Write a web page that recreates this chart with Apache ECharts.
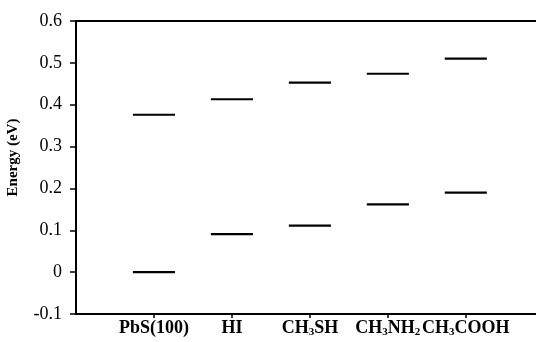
<!DOCTYPE html>
<html><head><meta charset="utf-8">
<script src="https://cdn.jsdelivr.net/npm/echarts@6/dist/echarts.min.js"></script>
<style>html,body{margin:0;padding:0;background:#fff}#c{width:536px;height:342px}</style>
</head><body><div id="c"></div>
<script>
const categories = ['PbS(100)', 'HI', 'CH3SH', 'CH3NH2', 'CH3COOH'];
const categoryLabels = ['PbS(100)', 'HI', 'CH{s|3}SH', 'CH{s|3}NH{s|2}', 'CH{s|3}COOH'];
const upperLevels = [0.376, 0.413, 0.453, 0.474, 0.510];
const lowerLevels = [0.000, 0.091, 0.111, 0.162, 0.190];
const yTicks = [-0.1, 0, 0.1, 0.2, 0.3, 0.4, 0.5, 0.6];

const halfWidth = 0.27;
const data = [];
categories.forEach((c, i) => {
  data.push([i + 1, upperLevels[i]]);
  data.push([i + 1, lowerLevels[i]]);
});

const chart = echarts.init(document.getElementById('c'), null, {renderer: 'canvas'});
const font = '"Liberation Serif", "Times New Roman", serif';
chart.setOption({
  animation: false,
  grid: {left: 76, right: 0, top: 21, bottom: 28, containLabel: false, outerBoundsMode: 'none'},
  xAxis: [{
    type: 'value', min: 0, max: 5.9, interval: 1,
    axisLine: {show: true, onZero: false, lineStyle: {color: '#000', width: 2}},
    axisTick: {show: true, length: 4, lineStyle: {color: '#000', width: 1.5},
      customValues: [1, 2, 3, 4, 5]},
    splitLine: {show: false},
    axisLabel: {
      customValues: [1, 2, 3, 4, 5],
      margin: 5,
      fontFamily: font, fontWeight: 'bold', fontSize: 18, color: '#000',
      formatter: v => categoryLabels[Math.round(v) - 1] || '',
      rich: {s: {fontFamily: font, fontWeight: 'bold', fontSize: 11, color: '#000', verticalAlign: 'bottom', padding: [8, 0, 0, 0]}}
    }
  }, {
    type: 'value', position: 'top', min: 0, max: 5.9,
    axisLine: {show: true, onZero: false, lineStyle: {color: '#000', width: 2}},
    axisTick: {show: false}, axisLabel: {show: false}, splitLine: {show: false}
  }],
  yAxis: {
    type: 'value', min: -0.1, max: 0.6, interval: 0.1,
    name: 'Energy (eV)', nameLocation: 'middle', nameGap: 55, nameRotate: 90,
    nameTextStyle: {fontFamily: font, fontWeight: 'bold', fontSize: 15, color: '#000', padding: [0, 0, 0, 20]},
    axisLine: {show: true, onZero: false, lineStyle: {color: '#000', width: 2}},
    axisTick: {show: true, length: 6, lineStyle: {color: '#000', width: 1.5}},
    splitLine: {show: false},
    axisLabel: {
      margin: 14, fontFamily: font, fontSize: 18, color: '#000',
      formatter: v => {
        const r = Math.round(v * 10) / 10;
        return yTicks.includes(r) ? String(r) : '';
      }
    }
  },
  series: [{
    type: 'custom',
    data: data,
    renderItem: (params, api) => {
      const x = api.value(0), y = api.value(1);
      const p1 = api.coord([x - halfWidth, y]);
      const p2 = api.coord([x + halfWidth, y]);
      return {
        type: 'line',
        shape: {x1: p1[0], y1: p1[1], x2: p2[0], y2: p2[1]},
        style: {stroke: '#000', lineWidth: 2.2}
      };
    }
  }]
});
</script></body></html>
